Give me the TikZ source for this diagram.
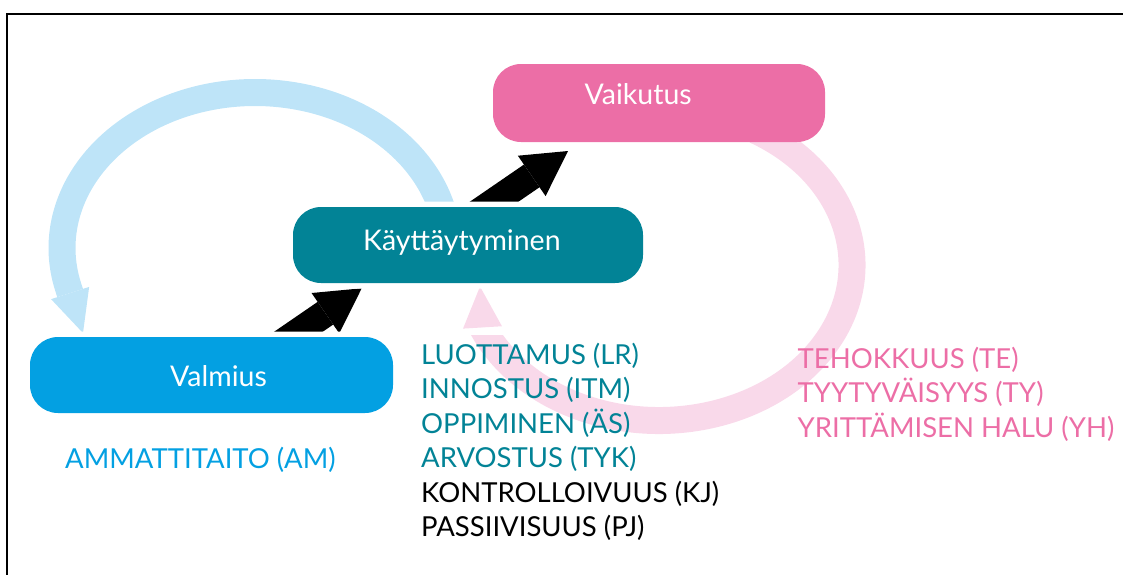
\documentclass[tikz,border=0pt]{standalone}
\usepackage{fontspec}
\setmainfont{Lato}
\usetikzlibrary{arrows.meta,calc}
\definecolor{vaikpink}{HTML}{EC6EA6}
\definecolor{kaytteal}{HTML}{028396}
\definecolor{valmblue}{HTML}{03A0E2}
\definecolor{ringblue}{HTML}{BEE4F8}
\definecolor{ringpink}{HTML}{F9D9EA}
\begin{document}
\begin{tikzpicture}[x=1pt,y=-1pt,
  stagebox/.style={rounded corners=28pt, inner sep=0pt, outer sep=0pt},
  haloed/.style={preaction={draw=white, line width=11pt}},
  boxtext/.style={text=white, font=\fontsize{28.5}{32}\selectfont, anchor=base west, inner sep=0pt},
  listtext/.style={font=\fontsize{27.5}{33}\selectfont, anchor=base west, inner sep=0pt},
  ring/.style={line width=27pt},
  bigarrow/.style={line width=27.5pt, -{Triangle[length=44pt,width=49pt,line width=0pt]}},
]
\useasboundingbox (0,0) rectangle (1123,574);
\clip (0,0) rectangle (1123,574);

% centres of the two feedback loops
\coordinate (bcen) at (255,248);
\coordinate (pcen) at (659,265);

% blue loop: Käyttäytyminen back to Valmius
\coordinate (bstart) at ($(bcen)+(-10:193pt and 155.5pt)$);
\coordinate (bapex) at (83,333);
\draw[ringblue, ring, -{Triangle[length=42pt,width=40pt,line width=0pt]}]
  (bstart) arc[start angle=-10, end angle=194.5, x radius=193pt, y radius=155.5pt] -- (bapex);

% pink loop: Vaikutus back to Käyttäytyminen
\begin{scope}
  \clip (560,0) -- (1123,0) -- (1123,574) -- (0,574) -- (0,335) -- (560,335) -- cycle;
  \coordinate (pstart) at ($(pcen)+(60:193pt and 155.5pt)$);
  \draw[ringpink, ring] (pstart) arc[start angle=60, end angle=-160, x radius=193pt, y radius=155.5pt];
\end{scope}
\coordinate (pbase) at (482.5,327.5);
\coordinate (papex) at (480,286.5);
\draw[ringpink, line width=0.1pt, -{Triangle[length=41pt,width=39pt,line width=0pt]}] (pbase) -- (papex);

% forward arrows
\coordinate (a1tail) at (262.8,356.2);
\coordinate (a1tip) at (361.7,288.3);
\coordinate (a2tail) at (469.1,218.9);
\coordinate (a2tip) at (568,151);
\draw[bigarrow] (a1tail) -- (a1tip);
\draw[bigarrow] (a2tail) -- (a2tip);

% stage boxes
\node[stagebox, fill=vaikpink, minimum width=332pt, minimum height=78pt] (vaik) at (659,103) {};
\node[stagebox, haloed, fill=kaytteal, minimum width=350pt, minimum height=76pt] (kayt) at (468,245) {};
\node[stagebox, haloed, fill=valmblue, minimum width=363pt, minimum height=76pt] (valm) at (211.5,375) {};

\node[boxtext] (vaiklbl) at (584.5,104) {Vaikutus};
\node[boxtext] (kaytlbl) at (363,250) {Käyttäytyminen};
\node[boxtext] (valmlbl) at (170,386.7) {Valmius};

% factor lists
\node[listtext, text=valmblue] (am) at (65,468.3) {AMMATTITAITO (AM)};

\node[listtext, text=kaytteal] (lr) at (421,364.3) {LUOTTAMUS (LR)};
\node[listtext, text=kaytteal] (itm) at (421,398.8) {INNOSTUS (ITM)};
\node[listtext, text=kaytteal] (as) at (421,433.3) {OPPIMINEN (ÄS)};
\node[listtext, text=kaytteal] (tyk) at (421,467.8) {ARVOSTUS (TYK)};
\node[listtext, text=black] (kj) at (421,502.3) {KONTROLLOIVUUS (KJ)};
\node[listtext, text=black] (pj) at (421,536.8) {PASSIIVISUUS (PJ)};

\node[listtext, text=vaikpink] (te) at (797.5,368.3) {TEHOKKUUS (TE)};
\node[listtext, text=vaikpink] (ty) at (797.5,402.8) {TYYTYVÄISYYS (TY)};
\node[listtext, text=vaikpink] (yh) at (797.5,437.3) {YRITTÄMISEN HALU (YH)};

% outer frame
\draw[line width=2.2pt] (7.3,13.7) rectangle (1140,600);
\end{tikzpicture}
\end{document}
